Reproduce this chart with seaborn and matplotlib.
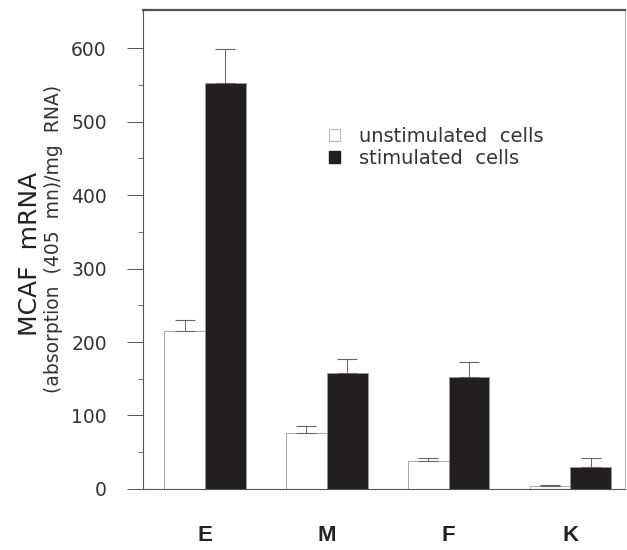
import matplotlib
matplotlib.use("Agg")
import matplotlib.pyplot as plt
import seaborn as sns
import pandas as pd
from matplotlib.patches import Patch

# values
cells = ["E", "M", "F", "K"]
unstim = [215, 76, 38, 4]
unstim_err = [15, 10, 4, 2]
stim = [552, 158, 152, 30]
stim_err = [47, 19, 21, 12]
groups = ["unstimulated cells", "stimulated cells"]

df = pd.DataFrame({
    "cell": cells * 2,
    "value": unstim + stim,
    "group": [groups[0]] * 4 + [groups[1]] * 4,
})

sns.set_style("ticks")
plt.rcParams["font.family"] = ["DejaVu Sans"]

fig = plt.figure(figsize=(6.27, 5.5), dpi=100)
ax = fig.add_axes([0.228, 0.111, 0.769, 0.871])

sns.barplot(data=df, x="cell", y="value", hue="group", order=cells,
            hue_order=groups, palette=["white", "#231f1d"], width=0.67,
            errorbar=None, edgecolor="#9a9a9a", linewidth=0.6, legend=False, ax=ax)

# one-sided error bars (upper only)
for cont, errs in zip(ax.containers, [unstim_err, stim_err]):
    for bar, e in zip(cont, errs):
        xc = bar.get_x() + bar.get_width() / 2
        h = bar.get_height()
        ax.errorbar(xc, h, yerr=[[0], [e]], fmt="none", ecolor="#666666",
                    elinewidth=0.7, capsize=7, capthick=0.8)

ax.set_ylim(0, 652)
ax.set_xlim(-0.51, 3.45)
ax.set_yticks(range(0, 601, 100))
ax.set_yticks(range(50, 601, 100), minor=True)
ax.tick_params(axis="y", which="major", length=11.5, width=0.7, color="#555555",
               labelsize=13.5, labelcolor="#333333", pad=14.5)
ax.tick_params(axis="y", which="minor", length=3.6, width=0.6, color="#555555")
ax.tick_params(axis="x", length=0, pad=26)
for lab in ax.get_xticklabels():
    lab.set_fontsize(16)
    lab.set_fontweight("bold")
    lab.set_color("#222222")
    lab.set_family("Liberation Sans")
ax.set_xlabel("")
ax.set_ylabel("")

for s in ["left", "bottom", "right"]:
    ax.spines[s].set_color("#555555")
    ax.spines[s].set_linewidth(0.8)
ax.spines["right"].set_color("#bbbbbb")
ax.spines["top"].set_color("#4a4f5a")
ax.spines["top"].set_linewidth(1.6)

# two-line y label
fig.text(0.048, 0.538, "MCAF  mRNA", rotation=90, ha="center", va="center",
         fontsize=18, color="#222222")
fig.text(0.086, 0.565, "(absorption  (405  mn)/mg  RNA)", rotation=90,
         ha="center", va="center", fontsize=13.5, color="#333333")

handles = [Patch(facecolor="white", edgecolor="#aaaaaa", linewidth=0.6),
           Patch(facecolor="#231f1d", edgecolor="#231f1d")]
ax.legend(handles, ["unstimulated  cells", "stimulated  cells"], loc="upper left",
          bbox_to_anchor=(0.35, 0.792), frameon=False, fontsize=14,
          handlelength=0.55, handleheight=0.55, handletextpad=1.0,
          labelspacing=0.15, labelcolor="#333333")

fig.savefig("out.png", dpi=100)
